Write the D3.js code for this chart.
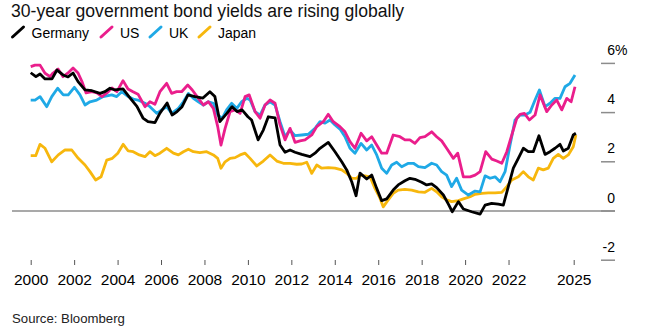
<!DOCTYPE html>
<html><head><meta charset="utf-8">
<script src="https://cdn.jsdelivr.net/npm/d3@7"></script>
<style>
html,body{margin:0;padding:0;background:#fff;}
svg{display:block;font-family:"Liberation Sans",Arial,Helvetica,sans-serif;}
</style></head>
<body><svg id="c" width="650" height="327"></svg>
<script>
const titleText = "30-year government bond yields are rising globally";
const sourceText = "Source: Bloomberg";
const seriesNames = ["Germany", "US", "UK", "Japan"];
const seriesColors = ["#000000", "#ea1e8c", "#1fa9e6", "#f7b70d"];
const xTickValues = [2000,2002,2004,2006,2008,2010,2012,2014,2016,2018,2020,2022,2025];
const xTickLabels = ["2000","2002","2004","2006","2008","2010","2012","2014","2016","2018","2020","2022","2025"];
const yTickValues = [-2,0,2,4,6];
const yTickLabels = ["-2","0","2","4","6"];

const germany = [[2000.0,5.62],[2000.24,5.46],[2000.43,5.57],[2000.66,5.37],[2000.98,5.37],[2001.21,5.73],[2001.49,5.53],[2001.72,5.45],[2001.95,5.61],[2002.18,5.26],[2002.5,4.92],[2002.82,4.89],[2003.19,4.78],[2003.42,4.85],[2003.65,4.99],[2003.88,4.92],[2004.25,4.96],[2004.57,4.6],[2004.89,4.25],[2005.17,3.78],[2005.4,3.63],[2005.72,3.59],[2005.95,3.98],[2006.28,4.39],[2006.51,3.9],[2006.74,4.04],[2006.97,4.24],[2007.24,4.72],[2007.56,4.65],[2007.93,4.59],[2008.25,4.85],[2008.48,4.65],[2008.71,3.63],[2009.04,3.98],[2009.27,4.24],[2009.5,4.04],[2009.73,4.11],[2010.0,3.83],[2010.17,3.7],[2010.47,2.89],[2010.71,3.29],[2010.94,3.83],[2011.25,3.79],[2011.48,2.68],[2011.71,2.39],[2011.94,2.48],[2012.17,2.39],[2012.48,2.3],[2012.86,2.21],[2013.09,2.35],[2013.32,2.55],[2013.7,2.79],[2014.01,2.41],[2014.32,2.0],[2014.55,1.67],[2014.78,1.19],[2014.98,0.62],[2015.16,1.54],[2015.47,1.3],[2015.7,1.46],[2015.93,0.92],[2016.16,0.42],[2016.39,0.49],[2016.69,0.85],[2016.92,1.06],[2017.23,1.23],[2017.46,1.33],[2017.69,1.29],[2018.0,1.17],[2018.23,1.06],[2018.46,1.1],[2018.69,0.95],[2019.0,0.65],[2019.23,0.28],[2019.41,-0.03],[2019.69,0.38],[2019.92,0.08],[2020.3,-0.03],[2020.69,-0.13],[2020.92,0.24],[2021.22,0.31],[2021.53,0.28],[2021.76,0.24],[2021.99,0.99],[2022.22,1.74],[2022.45,2.14],[2022.68,2.55],[2022.91,2.41],[2023.14,2.41],[2023.4,3.06],[2023.68,2.3],[2023.91,2.41],[2024.14,2.55],[2024.37,2.71],[2024.52,2.44],[2024.75,2.55],[2024.98,3.09],[2025.1,3.16]];

const us = [[2000.0,5.87],[2000.2,5.93],[2000.43,5.93],[2000.66,5.6],[2000.89,5.46],[2001.03,5.61],[2001.26,5.77],[2001.49,5.46],[2001.72,5.61],[2001.95,5.81],[2002.18,5.61],[2002.36,5.26],[2002.55,4.8],[2002.82,4.85],[2003.05,4.8],[2003.28,4.65],[2003.51,4.8],[2003.74,5.0],[2003.97,4.85],[2004.25,5.3],[2004.48,4.96],[2004.71,4.85],[2004.94,4.75],[2005.26,4.24],[2005.49,4.44],[2005.72,4.34],[2005.95,4.85],[2006.26,5.19],[2006.49,4.78],[2006.72,4.85],[2006.95,4.85],[2007.23,5.12],[2007.44,4.92],[2007.72,4.58],[2007.95,4.31],[2008.18,4.44],[2008.41,4.17],[2008.61,3.43],[2008.76,2.68],[2008.95,3.36],[2009.18,4.04],[2009.41,4.11],[2009.64,3.97],[2009.87,4.65],[2010.06,4.72],[2010.33,4.04],[2010.56,3.77],[2010.79,4.31],[2011.02,4.51],[2011.25,4.38],[2011.48,3.5],[2011.71,2.89],[2011.94,3.36],[2012.17,2.79],[2012.4,2.85],[2012.63,2.89],[2012.94,3.09],[2013.17,3.43],[2013.47,3.63],[2013.7,3.93],[2013.93,3.63],[2014.24,3.43],[2014.47,3.22],[2014.7,2.82],[2014.93,2.55],[2015.21,3.16],[2015.47,2.85],[2015.7,3.02],[2015.93,2.68],[2016.16,2.35],[2016.39,2.35],[2016.69,3.09],[2017.0,3.02],[2017.23,2.89],[2017.46,2.89],[2017.69,2.75],[2017.92,2.98],[2018.15,3.02],[2018.46,3.22],[2018.69,3.02],[2018.92,2.85],[2019.15,2.55],[2019.46,2.14],[2019.66,2.35],[2019.92,1.39],[2020.23,1.39],[2020.46,1.46],[2020.69,1.6],[2020.95,2.41],[2021.23,2.11],[2021.46,2.03],[2021.69,1.94],[2021.92,2.41],[2022.15,3.09],[2022.38,3.77],[2022.53,3.93],[2022.73,3.97],[2022.96,3.7],[2023.22,3.9],[2023.45,4.72],[2023.76,4.04],[2023.99,4.31],[2024.22,4.51],[2024.45,4.11],[2024.68,4.58],[2024.88,4.44],[2025.06,5.05]];

const uk = [[2000.0,4.51],[2000.2,4.51],[2000.43,4.65],[2000.74,4.24],[2000.97,4.65],[2001.24,4.99],[2001.5,4.72],[2001.73,4.72],[2002.01,5.03],[2002.27,4.72],[2002.5,4.31],[2002.73,4.44],[2003.04,4.51],[2003.34,4.65],[2003.73,4.72],[2003.96,4.65],[2004.19,4.85],[2004.49,4.65],[2004.72,4.55],[2004.94,4.51],[2005.26,4.38],[2005.49,4.24],[2005.8,3.97],[2006.03,4.11],[2006.26,4.24],[2006.49,3.97],[2006.8,4.17],[2007.03,4.44],[2007.26,4.78],[2007.49,4.58],[2007.72,4.44],[2007.95,4.31],[2008.18,4.44],[2008.41,4.38],[2008.61,3.9],[2008.82,3.77],[2009.02,4.11],[2009.25,4.38],[2009.49,4.17],[2009.71,4.44],[2009.95,4.58],[2010.1,4.51],[2010.33,4.04],[2010.56,3.9],[2010.79,4.31],[2011.02,4.44],[2011.25,4.31],[2011.48,3.63],[2011.71,3.02],[2011.94,3.29],[2012.17,3.06],[2012.48,3.09],[2012.78,3.12],[2013.09,3.36],[2013.32,3.63],[2013.55,3.57],[2013.78,3.7],[2014.01,3.5],[2014.24,3.33],[2014.47,3.02],[2014.7,2.55],[2014.93,2.35],[2015.21,2.75],[2015.47,2.48],[2015.7,2.68],[2015.93,2.28],[2016.16,1.74],[2016.39,1.53],[2016.62,1.87],[2016.85,1.98],[2017.08,1.8],[2017.39,1.94],[2017.62,1.94],[2017.85,1.8],[2018.15,1.76],[2018.46,1.94],[2018.69,1.87],[2018.92,1.6],[2019.15,1.46],[2019.38,0.99],[2019.61,1.33],[2019.84,0.85],[2020.15,0.65],[2020.46,0.81],[2020.69,0.78],[2020.92,1.43],[2021.15,1.33],[2021.38,1.39],[2021.61,1.19],[2021.84,1.6],[2022.07,2.68],[2022.3,3.7],[2022.53,3.9],[2022.76,3.9],[2022.99,4.01],[2023.22,4.51],[2023.42,4.92],[2023.68,4.24],[2023.91,4.38],[2024.14,4.58],[2024.37,4.58],[2024.6,5.05],[2024.83,5.19],[2025.06,5.53]];

const japan = [[2000.0,2.25],[2000.23,2.25],[2000.43,2.71],[2000.66,2.55],[2000.97,2.0],[2001.27,2.28],[2001.58,2.48],[2001.89,2.48],[2002.19,2.14],[2002.5,1.87],[2002.73,1.6],[2002.99,1.26],[2003.24,1.39],[2003.5,2.07],[2003.76,2.14],[2004.01,2.35],[2004.26,2.71],[2004.49,2.44],[2004.72,2.41],[2005.0,2.28],[2005.26,2.21],[2005.49,2.41],[2005.72,2.25],[2005.95,2.35],[2006.26,2.55],[2006.57,2.35],[2006.8,2.28],[2007.03,2.41],[2007.26,2.51],[2007.49,2.41],[2007.79,2.37],[2008.1,2.41],[2008.41,2.28],[2008.61,2.14],[2008.76,1.74],[2008.95,2.0],[2009.18,2.14],[2009.41,2.17],[2009.64,2.28],[2009.87,2.35],[2010.1,2.14],[2010.41,1.83],[2010.71,2.03],[2011.02,2.28],[2011.33,2.03],[2011.63,1.94],[2011.94,1.94],[2012.25,1.9],[2012.48,1.91],[2012.71,1.98],[2012.94,1.53],[2013.17,1.87],[2013.4,1.74],[2013.7,1.76],[2014.01,1.74],[2014.32,1.67],[2014.55,1.53],[2014.78,1.33],[2015.01,1.33],[2015.16,1.46],[2015.39,1.43],[2015.62,1.39],[2015.85,0.92],[2016.08,0.52],[2016.23,0.17],[2016.46,0.45],[2016.69,0.72],[2016.92,0.85],[2017.23,0.88],[2017.54,0.85],[2017.85,0.78],[2018.15,0.76],[2018.46,0.92],[2018.69,0.78],[2018.92,0.58],[2019.15,0.45],[2019.38,0.38],[2019.69,0.42],[2019.92,0.49],[2020.23,0.58],[2020.46,0.68],[2020.77,0.72],[2021.07,0.74],[2021.38,0.74],[2021.69,0.76],[2021.92,0.99],[2022.15,1.26],[2022.45,1.39],[2022.68,1.6],[2022.91,1.39],[2023.14,1.26],[2023.37,1.74],[2023.6,1.67],[2023.83,1.74],[2024.06,2.14],[2024.29,2.3],[2024.52,2.14],[2024.75,2.28],[2024.98,2.61],[2025.1,3.09]];

const seriesData = [germany, us, uk, japan];

const svg = d3.select("#c");
const x = d3.scaleLinear().domain([2000, 2025]).range([30.7, 573.7]);
const y = d3.scaleLinear().domain([-2, 6]).range([260.2, 63.4]);

// title
svg.append("text").attr("x", 11).attr("y", 17).attr("font-size", 17.6)
  .attr("fill", "#111").text(titleText);

// legend
const legendX = [12.5, 101, 150, 199];
const lg = svg.append("g");
seriesNames.forEach((n, i) => {
  lg.append("line").attr("x1", legendX[i]).attr("y1", 37).attr("x2", legendX[i] + 11).attr("y2", 27)
    .attr("stroke", seriesColors[i]).attr("stroke-width", 3).attr("stroke-linecap", "round");
  lg.append("text").attr("x", legendX[i] + 19).attr("y", 37.5).attr("font-size", 14)
    .attr("fill", "#000").text(n);
});

// y ticks (right)
const yg = svg.append("g");
yg.selectAll("line").data(yTickValues).join("line")
  .attr("x1", 601).attr("x2", 615).attr("y1", d => y(d)).attr("y2", d => y(d))
  .attr("stroke", "#8c8c8c").attr("stroke-width", 1.5);
yg.selectAll("text.lab").data(yTickValues).join("text").attr("class", "lab")
  .attr("x", 615).attr("y", d => y(d) - 8.5).attr("text-anchor", "end")
  .attr("font-size", 14).attr("fill", "#000").text((d, i) => yTickLabels[i]);
yg.append("text").attr("x", 615).attr("y", y(6) - 8.5).attr("font-size", 14).attr("fill", "#000").text("%");

// zero line
svg.append("line").attr("x1", 12).attr("x2", 615).attr("y1", y(0)).attr("y2", y(0))
  .attr("stroke", "#8c8c8c").attr("stroke-width", 1.5);

// x axis
const xAxis = d3.axisBottom(x).tickValues(xTickValues).tickSize(5)
  .tickFormat((d, i) => xTickLabels[i]);
const xg = svg.append("g").attr("transform", "translate(0,260)").call(xAxis);
xg.select(".domain").remove();
xg.selectAll(".tick line").attr("stroke", "#555").attr("stroke-width", 1);
xg.selectAll(".tick text").attr("y", 24.5).attr("dy", null).attr("font-size", 15.5)
  .attr("fill", "#000").attr("font-family", "'Liberation Sans',Arial,sans-serif");

// lines (Germany on top)
const line = d3.line().x(d => x(d[0])).y(d => y(d[1]));
const order = [3, 2, 1, 0];
svg.append("g").selectAll("path").data(order).join("path")
  .attr("d", i => line(seriesData[i]))
  .attr("fill", "none").attr("stroke", i => seriesColors[i])
  .attr("stroke-width", 2.8).attr("stroke-linejoin", "round").attr("stroke-linecap", "butt");

// source
svg.append("text").attr("x", 12).attr("y", 323).attr("font-size", 13.2)
  .attr("fill", "#222").text(sourceText);
</script></body></html>
